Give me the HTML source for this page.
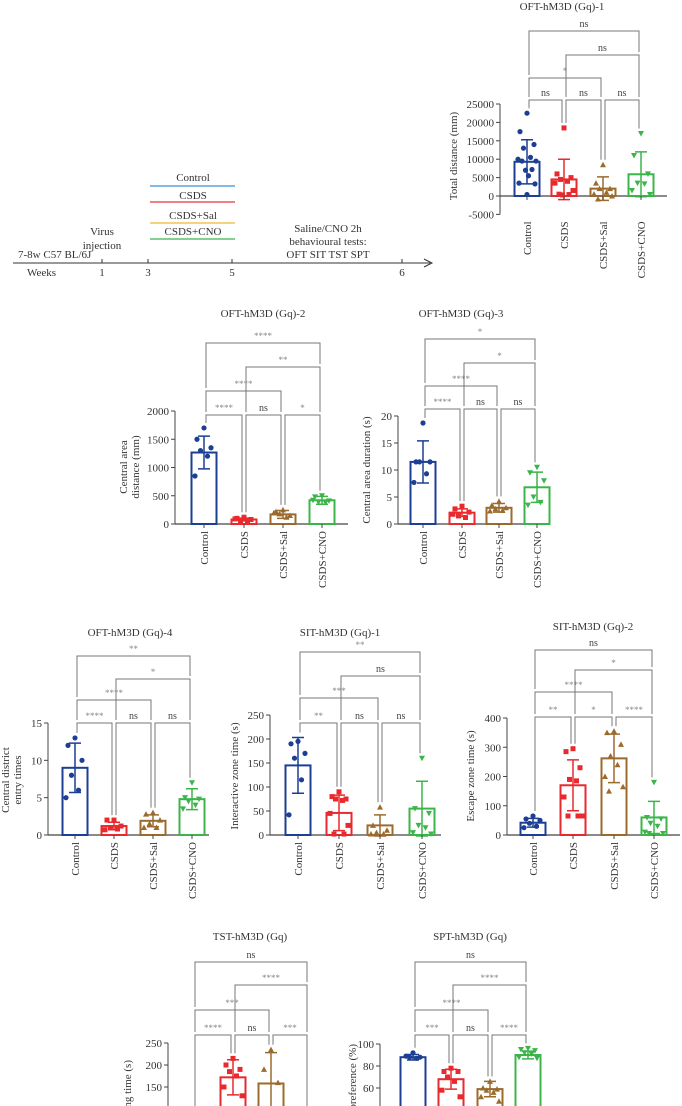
<!DOCTYPE html>
<html><head><meta charset="utf-8">
<style>
html,body{margin:0;padding:0;background:#fff;width:682px;height:1106px;overflow:hidden;}
svg{display:block;font-family:"Liberation Serif",serif;}
</style></head>
<body>
<svg id="fig" width="682" height="1106" viewBox="0 0 682 1106" xmlns="http://www.w3.org/2000/svg" overflow="hidden">
<g font-size="11" fill="#333">
  <line x1="13" y1="263" x2="430" y2="263" stroke="#333" stroke-width="1"/>
  <path d="M424 259 L432 263 L424 267" fill="none" stroke="#333"/>
  <line x1="102" y1="259" x2="102" y2="263" stroke="#333"/>
  <line x1="148" y1="259" x2="148" y2="263" stroke="#333"/>
  <line x1="232" y1="259" x2="232" y2="263" stroke="#333"/>
  <line x1="402" y1="259" x2="402" y2="263" stroke="#333"/>
  <text x="18" y="258">7-8w C57 BL/6J</text>
  <text x="27" y="276">Weeks</text>
  <text x="102" y="276" text-anchor="middle">1</text>
  <text x="148" y="276" text-anchor="middle">3</text>
  <text x="232" y="276" text-anchor="middle">5</text>
  <text x="402" y="276" text-anchor="middle">6</text>
  <text x="102" y="235" text-anchor="middle">Virus</text>
  <text x="102" y="249" text-anchor="middle">injection</text>
  <text x="193" y="181" text-anchor="middle">Control</text>
  <line x1="150" y1="186" x2="235" y2="186" stroke="#3a8fd8" stroke-width="1.2"/>
  <text x="193" y="199" text-anchor="middle">CSDS</text>
  <line x1="150" y1="202" x2="235" y2="202" stroke="#e8353a" stroke-width="1.2"/>
  <text x="193" y="219" text-anchor="middle">CSDS+Sal</text>
  <line x1="150" y1="223" x2="235" y2="223" stroke="#f0b830" stroke-width="1.2"/>
  <text x="193" y="235" text-anchor="middle">CSDS+CNO</text>
  <line x1="150" y1="239" x2="235" y2="239" stroke="#3bb54a" stroke-width="1.2"/>
  <text x="328" y="232" text-anchor="middle">Saline/CNO 2h</text>
  <text x="328" y="245" text-anchor="middle">behavioural tests:</text>
  <text x="328" y="258" text-anchor="middle">OFT SIT TST SPT</text>
</g>
</svg>
<script>
const categories = ["Control","CSDS","CSDS+Sal","CSDS+CNO"];
const p1Means = [9300, 4500, 2000, 5900];
const p1Sds = [6000, 5500, 3200, 6100];
const p1Pts = [[22500,17500,14000,13000,10500,10000,9500,9500,7200,7000,5500,3500,3300,400],[18500,6000,5000,4500,4000,3500,1500,500,400,300],[8500,3500,2000,2000,1000,500,0,-800],[17000,11000,6000,3500,3300,1500,400]];
const p1Ticks = [25000,20000,15000,10000,5000,0,-5000];
const p2Means = [1265, 80, 170, 420];
const p2Sds = [290, 25, 70, 70];
const p2Pts = [[1700,1500,1350,1300,1200,850],[120,100,80,60,50,90],[250,220,150,180,120,200],[500,480,410,390,380,420]];
const p2Ticks = [2000,1500,1000,500,0];
const p3Means = [11.5, 2.1, 3.0, 6.8];
const p3Sds = [3.9, 0.7, 0.8, 2.8];
const p3Pts = [[18.7,11.5,11.5,11.5,9.3,7.7],[3.3,2.8,2.2,1.5,1.2,1.8],[4.2,3.5,3.0,2.8,2.5,2.4],[10.5,9.5,8,5,4,3.5]];
const p3Ticks = [20,15,10,5,0];
const p4Means = [9, 1.2, 1.9, 4.8];
const p4Sds = [3.3, 0.5, 0.8, 1.4];
const p4Pts = [[13,12,10,8,6,5],[2,2,1.2,1,0.8,0.7],[3,2.8,2,1.5,1,1],[7,5,4.8,4.5,4,3.5]];
const p4Ticks = [15,10,5,0];
const p5Means = [145, 46, 20, 55];
const p5Sds = [58, 37, 22, 57];
const p5Pts = [[195,190,170,160,115,42],[90,80,75,75,72,45,20,2,2],[58,20,10,5,2,2],[160,55,45,20,15,5,2]];
const p5Ticks = [250,200,150,100,50,0];
const p6Means = [42, 170, 262, 60];
const p6Sds = [15, 87, 83, 55];
const p6Pts = [[65,55,50,40,30,25],[295,285,230,190,185,130,65,65,65],[355,350,310,270,240,200,165,150],[180,60,55,40,30,10,5,5]];
const p6Ticks = [400,300,200,100,0];
const p7Means = [60, 172, 158, 50];
const p7Sds = [20, 40, 70, 20];
const p7Pts = [[80,70,60,50,40],[215,200,190,185,175,150,130],[235,190,160,60],[75,60,50,40,30]];
const p7Ticks = [250,200,150,100,50,0];
const p8Means = [88, 68, 59, 90];
const p8Sds = [2.5, 9, 7, 3.5];
const p8Pts = [[92,89,88,88,87],[78,75,75,70,66,58,52],[66,60,59,58,56,52,48],[96,95,94,92,91,88,87]];
const p8Ticks = [100,80,60,40,20,0];

const NS = "http://www.w3.org/2000/svg";
const svg = document.getElementById("fig");
const colors = ["#1c3f94","#e82a2f","#9b6b2e","#3bb54a"];
function mk(tag, attrs, parent){const e=document.createElementNS(NS,tag);for(const k in attrs)e.setAttribute(k,attrs[k]);(parent||svg).appendChild(e);return e;}
function marker(g, k, x, y){
  const c=colors[k];let e;
  if(k===0) e=mk("circle",{cx:x,cy:y,r:2.6,fill:c},g);
  else if(k===1) e=mk("rect",{x:x-2.5,y:y-2.5,width:5,height:5,fill:c},g);
  else if(k===2) e=mk("path",{d:`M${x} ${y-3} L${x+3} ${y+2.5} L${x-3} ${y+2.5}Z`,fill:c},g);
  else e=mk("path",{d:`M${x} ${y+3} L${x+3} ${y-2.5} L${x-3} ${y-2.5}Z`,fill:c},g);
  
  
}
const offs=[0,-7,7,-3.5,3.5,-9,9,-5,5,-1.5,1.5,-8,8,0];
function panel(cfg, means, sds, pts, ticks){
  const g=mk("g",{});
  
  
  const yv=v=>cfg.y0+(v)*(cfg.yTop-cfg.y0)/cfg.topVal;
  const yMinPx=yv(ticks[ticks.length-1]);
  const t=mk("text",{x:cfg.tx,y:cfg.ty,"text-anchor":"middle","font-size":11,fill:"#333"},g);t.textContent=cfg.title;
  
  
  const ya=mk("line",{x1:cfg.ax,y1:yv(ticks[0]),x2:cfg.ax,y2:Math.min(yMinPx,1106),stroke:"#444","stroke-width":1},g);
  
  
  ticks.forEach(v=>{
    if(yv(v)>1106) return;
    mk("line",{x1:cfg.ax-4,y1:yv(v),x2:cfg.ax,y2:yv(v),stroke:"#444"},g);
    const tl=mk("text",{x:cfg.ax-6,y:yv(v)+4,"text-anchor":"end","font-size":11,fill:"#333"},g);tl.textContent=v;
    
    
  });
  cfg.label.forEach((l,i)=>{
    const yl=mk("text",{transform:`translate(${cfg.lx+i*12},${cfg.ly}) rotate(-90)`,"text-anchor":cfg.lanchor||"middle","font-size":11,fill:"#333"},g);yl.textContent=l;
    
    
  });
  const xa=mk("line",{x1:cfg.ax,y1:yv(0),x2:cfg.x1,y2:yv(0),stroke:"#444","stroke-width":1.2},g);
  
  
  const colTop=[];
  cfg.cx.forEach((x,k)=>{
    const m=means[k],s=sds[k];
    const bar=mk("rect",{x:x-12.5,y:Math.min(yv(m),yv(0)),width:25,height:Math.abs(yv(0)-yv(m)),fill:"none",stroke:colors[k],"stroke-width":2},g);
    
    
    const eb=mk("path",{d:`M${x} ${yv(m-s)} L${x} ${yv(m+s)} M${x-6} ${yv(m+s)} L${x+6} ${yv(m+s)} M${x-6} ${yv(m-s)} L${x+6} ${yv(m-s)}`,stroke:colors[k],"stroke-width":1.5,fill:"none"},g);
    
    
    let top=yv(m+s);
    pts[k].forEach((v,i)=>{marker(g,k,x+offs[i%offs.length],yv(v));top=Math.min(top,yv(v));});
    colTop.push(top-5);
    if(yMinPx<1100){
      mk("line",{x1:x,y1:yv(0),x2:x,y2:yv(0)+4,stroke:"#444"},g);
      const cl=mk("text",{transform:`translate(${x+4},${yMinPx+7}) rotate(-90)`,"text-anchor":"end","font-size":11,fill:"#333"},g);cl.textContent=categories[k];
      
      
    }
  });
  cfg.br.forEach(b=>{
    const [i,j,y,lab]=b;
    const legEnd=c=>{let e=colTop[c];cfg.br.forEach(o=>{if(o[2]>y&&(o[0]===c||o[1]===c))e=Math.min(e,o[2]-3);});return Math.min(e,1106);};
    const xl=cfg.cx[i]+2,xr=cfg.cx[j]-2;
    const p=mk("path",{d:`M${xl} ${legEnd(i)} L${xl} ${y} L${xr} ${y} L${xr} ${legEnd(j)}`,fill:"none",stroke:"#777","stroke-width":1},g);
    
    
    const st=mk("text",{x:(xl+xr)/2,y:y-4,"text-anchor":"middle","font-size":lab==="ns"?10:9,fill:lab==="ns"?"#444":"#888"},g);st.textContent=lab;
    
    
  });
}
panel({name:"oft-1-chart",title:"OFT-hM3D (Gq)-1",tx:562,ty:10,ax:500,x1:667,y0:196,yTop:104,topVal:25000,cx:[527,564,603,641],label:["Total distance (mm)"],lx:457,ly:156,
  br:[[0,3,31,"ns"],[1,3,55,"ns"],[0,2,78,"*"],[0,1,100,"ns"],[1,2,100,"ns"],[2,3,100,"ns"]]},p1Means,p1Sds,p1Pts,p1Ticks);
panel({name:"oft-2-chart",title:"OFT-hM3D (Gq)-2",tx:263,ty:317,ax:175,x1:348,y0:524,yTop:411,topVal:2000,cx:[204,244,283,322],label:["Central area","distance (mm)"],lx:127,ly:467,
  br:[[0,3,343,"****"],[1,3,367,"**"],[0,2,391,"****"],[0,1,415,"****"],[1,2,415,"ns"],[2,3,415,"*"]]},p2Means,p2Sds,p2Pts,p2Ticks);
panel({name:"oft-3-chart",title:"OFT-hM3D (Gq)-3",tx:461,ty:317,ax:398,x1:550,y0:524,yTop:416,topVal:20,cx:[423,462,499,537],label:["Central area duration (s)"],lx:370,ly:470,
  br:[[0,3,339,"*"],[1,3,363,"*"],[0,2,386,"****"],[0,1,409,"****"],[1,2,409,"ns"],[2,3,409,"ns"]]},p3Means,p3Sds,p3Pts,p3Ticks);
panel({name:"oft-4-chart",title:"OFT-hM3D (Gq)-4",tx:130,ty:636,ax:48,x1:209,y0:835,yTop:723,topVal:15,cx:[75,114,153,192],label:["Central district","entry times"],lx:9,ly:780,
  br:[[0,3,656,"**"],[1,3,679,"*"],[0,2,700,"****"],[0,1,723,"****"],[1,2,723,"ns"],[2,3,723,"ns"]]},p4Means,p4Sds,p4Pts,p4Ticks);
panel({name:"sit-1-chart",title:"SIT-hM3D (Gq)-1",tx:340,ty:636,ax:270,x1:441,y0:835,yTop:715,topVal:250,cx:[298,339,380,422],label:["Interactive zone time (s)"],lx:238,ly:776,
  br:[[0,3,652,"**"],[1,3,676,"ns"],[0,2,698,"***"],[0,1,723,"**"],[1,2,723,"ns"],[2,3,723,"ns"]]},p5Means,p5Sds,p5Pts,p5Ticks);
panel({name:"sit-2-chart",title:"SIT-hM3D (Gq)-2",tx:593,ty:630,ax:507,x1:680,y0:835,yTop:718,topVal:400,cx:[533,573,614,654],label:["Escape zone time (s)"],lx:474,ly:776,
  br:[[0,3,650,"ns"],[1,3,670,"*"],[0,2,692,"****"],[0,1,717,"**"],[1,2,717,"*"],[2,3,717,"****"]]},p6Means,p6Sds,p6Pts,p6Ticks);
panel({name:"tst-chart",title:"TST-hM3D (Gq)",tx:250,ty:940,ax:168,x1:330,y0:1153,yTop:1043,topVal:250,cx:[193,233,271,309],label:["Immobilizing time (s)"],lx:131,ly:1060,lanchor:"end",
  br:[[0,3,962,"ns"],[1,3,985,"****"],[0,2,1010,"***"],[0,1,1035,"****"],[1,2,1035,"ns"],[2,3,1035,"***"]]},p7Means,p7Sds,p7Pts,p7Ticks);
panel({name:"spt-chart",title:"SPT-hM3D (Gq)",tx:470,ty:940,ax:380,x1:550,y0:1154,yTop:1044,topVal:100,cx:[413,451,490,528],label:["Sucrose preference (%)"],lx:356,ly:1044,lanchor:"end",
  br:[[0,3,962,"ns"],[1,3,985,"****"],[0,2,1010,"****"],[0,1,1035,"***"],[1,2,1035,"ns"],[2,3,1035,"****"]]},p8Means,p8Sds,p8Pts,p8Ticks);
</script>
</body></html>
